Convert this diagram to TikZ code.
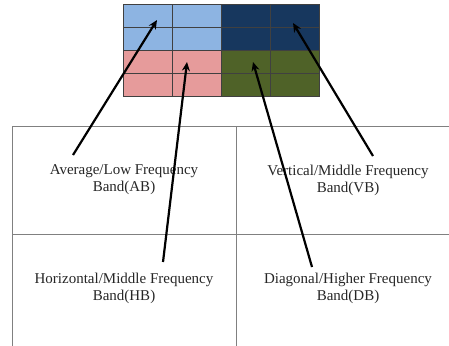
\documentclass[tikz,border=0pt]{standalone}
\usepackage{fontspec}
\setmainfont{Liberation Serif}
\usepackage{xcolor}
\usetikzlibrary{positioning,arrows.meta,calc}

\definecolor{lowblue}{RGB}{141,180,226}
\definecolor{navyband}{RGB}{23,55,94}
\definecolor{pinkband}{RGB}{230,155,155}
\definecolor{oliveband}{RGB}{79,98,40}

\begin{document}
\begin{tikzpicture}[
    x=1pt, y=-1pt,
    >=Stealth,
    cell/.style    = {rectangle, draw=black!75, line width=0.8pt, minimum width=49pt,
                      minimum height=23pt, inner sep=0pt, anchor=north west},
    tablerule/.style = {draw=black!50, line width=1pt},
    label/.style   = {font=\fontsize{15}{17}\selectfont, align=center, color=black!85},
    pointer/.style = {->, line width=2.2pt, draw=black,
                      >={Stealth[length=9pt, width=8pt]}},
]
\useasboundingbox (0,0) rectangle (449,345);

% =============================== Sub-band grid ===============================
\foreach \r/\c/\col in {0/0/lowblue, 0/1/lowblue, 1/0/lowblue, 1/1/lowblue,
                        0/2/navyband, 0/3/navyband, 1/2/navyband, 1/3/navyband,
                        2/0/pinkband, 2/1/pinkband, 3/0/pinkband, 3/1/pinkband,
                        2/2/oliveband, 2/3/oliveband, 3/2/oliveband, 3/3/oliveband} {
    \node[cell, fill=\col] (C\r\c) at (123 + \c*49, 4 + \r*23) {};
}

% =============================== Band table ==================================
\begin{scope}
  \clip (0,0) rectangle (449,345);
  \draw[tablerule] (12,126) rectangle (460,360);
  \draw[tablerule] (236,126) -- (236,360);
  \draw[tablerule] (12,234) -- (460,234);
\end{scope}

\node[label] (AB) at (124,180) {Average/Low Frequency\\Band(AB)};
\node[label] (VB) at (348,180) {Vertical/Middle Frequency\\Band(VB)};
\node[label] (HB) at (124,288) {Horizontal/Middle Frequency\\Band(HB)};
\node[label] (DB) at (348,288) {Diagonal/Higher Frequency\\Band(DB)};

% arrow tails just above the labels
\coordinate (tAB) at (73,155);
\coordinate (tVB) at (373,156);
\coordinate (tHB) at (163,262);
\coordinate (tDB) at (312,267);

% arrow heads inside the grid
\coordinate (hAB) at (157,20);
\coordinate (hVB) at (293,23);
\coordinate (hHB) at (187,62);
\coordinate (hDB) at (253,62);

\draw[pointer] (tAB) -- (hAB);
\draw[pointer] (tHB) -- (hHB);
\draw[pointer] (tDB) -- (hDB);
\draw[pointer] (tVB) -- (hVB);

\end{tikzpicture}
\end{document}
